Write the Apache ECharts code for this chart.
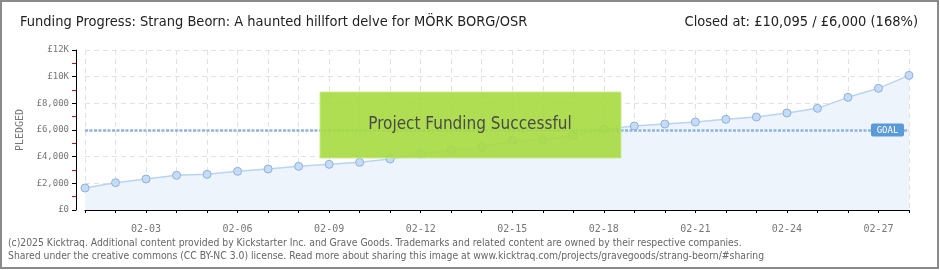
<!DOCTYPE html>
<html><head><meta charset="utf-8">
<script src="https://cdn.jsdelivr.net/npm/echarts@6/dist/echarts.min.js"></script>
<style>html,body{margin:0;padding:0;background:#fff}#c{width:940px;height:270px}</style>
</head><body><div id="c"></div>
<script>
const dates = ['02-01','02-02','02-03','02-04','02-05','02-06','02-07','02-08','02-09','02-10','02-11','02-12','02-13','02-14','02-15','02-16','02-17','02-18','02-19','02-20','02-21','02-22','02-23','02-24','02-25','02-26','02-27','02-28'];
const pledged = [1650,2050,2325,2600,2675,2900,3075,3275,3425,3575,3825,4200,4500,4700,5200,5225,5600,6050,6300,6450,6600,6800,6975,7275,7625,8450,9125,10095];
const goal = 6000;
const yTicks = [0,2000,4000,6000,8000,10000,12000];
const titleText = 'Funding Progress: Strang Beorn: A haunted hillfort delve for MÖRK BORG/OSR';
const closedText = 'Closed at: £10,095 / £6,000 (168%)';
const footer1 = '(c)2025 Kicktraq. Additional content provided by Kickstarter Inc. and Grave Goods. Trademarks and related content are owned by their respective companies.';
const footer2 = 'Shared under the creative commons (CC BY-NC 3.0) license. Read more about sharing this image at www.kicktraq.com/projects/gravegoods/strang-beorn/#sharing';

const chart = echarts.init(document.getElementById('c'), null, {renderer:'canvas'});
function fmt(v){ return v >= 10000 ? '£' + (v/1000) + 'K' : '£' + v.toLocaleString('en-US'); }
const option = {
  animation:false,
  backgroundColor:'#fff',
  grid:{left:85,right:31,top:50,bottom:60},
  xAxis:{type:'category',data:dates,boundaryGap:false,offset:10,
    axisLine:{lineStyle:{color:'#000',width:1}},
    axisTick:{interval:0,length:3,lineStyle:{color:'#000'}},
    axisLabel:{interval:(i)=>i%3===2,color:'#777',fontFamily:'DejaVu Sans Mono',fontSize:10,margin:4},
    splitLine:{show:true,interval:0,lineStyle:{color:'#e2e2e2',type:[5,4]}}},
  yAxis:{type:'value',min:yTicks[0],max:yTicks[yTicks.length-1],interval:2000,offset:9,
    name:'PLEDGED',nameLocation:'middle',nameGap:50,nameTextStyle:{color:'#777',fontFamily:'DejaVu Sans Mono',fontSize:10},
    axisLine:{show:true,lineStyle:{color:'#000',width:1}},
    axisTick:{show:true,length:4,lineStyle:{color:'#000'}},
    minorTick:{show:true,splitNumber:2,length:4,lineStyle:{color:'#e00'}},
    axisLabel:{formatter:fmt,color:'#777',fontFamily:'DejaVu Sans Mono',fontSize:9,margin:7},
    splitLine:{show:true,lineStyle:{color:'#e2e2e2',type:[5,4]}}},
  series:[{type:'line',data:pledged,symbol:'circle',symbolSize:8,
    itemStyle:{color:'#c6dcf6',borderColor:'#8fb2da',borderWidth:1},
    lineStyle:{color:'#b8d4f2',width:1.5},
    areaStyle:{color:'#edf4fc',opacity:1},
    z:3,
    markLine:{silent:true,symbol:'none',label:{show:false},
      lineStyle:{color:'#8db4e2',width:2.5,type:[3,1.5]},
      data:[{yAxis:goal}]}}]
};
chart.setOption(option);
const gp = chart.convertToPixel({xAxisIndex:0,yAxisIndex:0},[dates.length-1,goal]);
const tf = '14.5px "DejaVu Sans Condensed"';
const ff = '10.3px "DejaVu Sans Condensed"';
chart.setOption({graphic:[
  {type:'rect',shape:{x:1,y:1,width:937,height:267},style:{fill:'none',stroke:'#8a8a8a',lineWidth:2},z:100},
  {type:'text',x:20,y:22,style:{text:titleText,fill:'#222',font:tf,textVerticalAlign:'middle'},z:100},
  {type:'text',x:918,y:22,style:{text:closedText,fill:'#222',font:tf,textAlign:'right',textVerticalAlign:'middle'},z:100},
  {type:'text',x:8,y:243,style:{text:footer1,fill:'#666',font:ff,textVerticalAlign:'middle'},z:100},
  {type:'text',x:8,y:256,style:{text:footer2,fill:'#666',font:ff,textVerticalAlign:'middle'},z:100},
  {type:'rect',shape:{x:320,y:92,width:301,height:66},style:{fill:'rgba(166,218,64,0.9)',stroke:'rgba(200,235,140,0.9)',lineWidth:1},z:50},
  {type:'text',x:470,y:125,style:{text:'Project Funding Successful',fill:'#4a4a4a',font:'17px "DejaVu Sans Condensed"',textAlign:'center',textVerticalAlign:'middle',textShadowColor:'#fff',textShadowOffsetX:1,textShadowOffsetY:1,textShadowBlur:0},z:51},
  {type:'rect',shape:{x:gp[0]-38,y:gp[1]-6.5,width:33,height:13,r:2},style:{fill:'#5b9ad9'},z:60},
  {type:'text',x:gp[0]-21.5,y:gp[1]+0.5,style:{text:'GOAL',fill:'#fff',font:'9px "DejaVu Sans Mono"',textAlign:'center',textVerticalAlign:'middle'},z:61}
]});
</script></body></html>
